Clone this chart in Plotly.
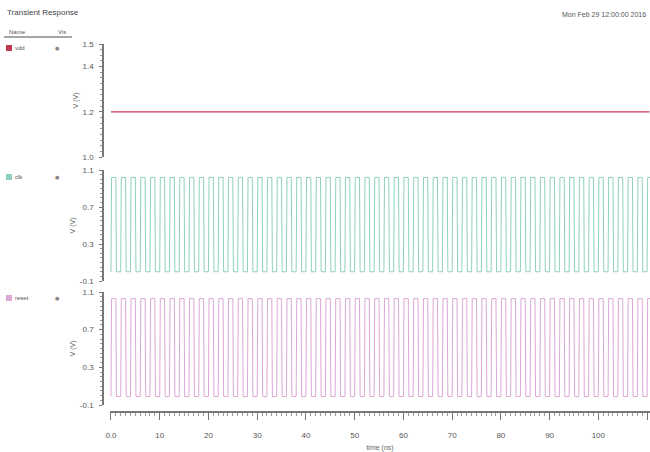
import plotly.graph_objects as go

# ---------------- data ----------------
title_text = "Transient Response"
date_text = "Mon Feb 29 12:00:00 2016"
signal_names = ["vdd", "clk", "reset"]
signal_colors = ["#c23a52", "#8fd1bd", "#dca8d6"]

t_end_ns = 110.5
vdd_level_v = 1.2
clk_period_ns = 2.0
clk_high_v = 1.02
clk_low_v = 0.0
reset_period_ns = 2.0
reset_high_v = 1.03
reset_low_v = -0.01
edge_ns = 0.12

x_tick_vals = [0, 10, 20, 30, 40, 50, 60, 70, 80, 90, 100, 110]
x_tick_text = ["0.0", "10", "20", "30", "40", "50", "60", "70", "80", "90", "100", "110"]
y1_tick_vals = [1.0, 1.2, 1.4, 1.5]
y1_tick_text = ["1.0", "1.2", "1.4", "1.5"]
y23_tick_vals = [-0.1, 0.3, 0.7, 1.1]
y23_tick_text = ["-0.1", "0.3", "0.7", "1.1"]


def square_wave(period, hi, lo, t_end, edge):
    ts, vs = [], []
    t = 0.0
    half = period / 2.0
    while t < t_end:
        ts += [t, t + edge, t + half, t + half + edge]
        vs += [lo, hi, hi, lo]
        t += period
    return ts, vs


clk_t, clk_v = square_wave(clk_period_ns, clk_high_v, clk_low_v, t_end_ns, edge_ns)
rst_t, rst_v = square_wave(reset_period_ns, reset_high_v, reset_low_v, t_end_ns, edge_ns)

W, H = 650, 452
def px(x): return x / W
def py(y): return 1 - y / H

fig = go.Figure()
fig.add_trace(go.Scatter(x=[0, t_end_ns], y=[vdd_level_v, vdd_level_v], mode="lines",
                         line=dict(color=signal_colors[0], width=1.3), xaxis="x", yaxis="y"))
fig.add_trace(go.Scatter(x=clk_t, y=clk_v, mode="lines",
                         line=dict(color=signal_colors[1], width=1), xaxis="x", yaxis="y2"))
fig.add_trace(go.Scatter(x=rst_t, y=rst_v, mode="lines",
                         line=dict(color=signal_colors[2], width=1), xaxis="x", yaxis="y3"))

font = dict(family="Liberation Sans", size=8, color="#555")


def yaxis_cfg(domain, rng, tv, tt, minor_dtick):
    return dict(domain=domain, range=rng, tickvals=tv, ticktext=tt,
                showgrid=False, zeroline=False, showline=True, linecolor="#777", linewidth=1.5,
                ticks="outside", ticklen=3, tickcolor="#777", tickfont=font, ticklabelstandoff=4,
                anchor="free", position=px(103), automargin=False,
                title=dict(text="V (V)", font=dict(family="Liberation Sans", size=7, color="#666"),
                           standoff=2),
                minor=dict(dtick=minor_dtick, ticks="outside", ticklen=2, tickcolor="#999"))


fig.update_layout(
    width=W, height=H, margin=dict(l=0, r=0, t=0, b=0, pad=0), autosize=False,
    paper_bgcolor="white", plot_bgcolor="white", showlegend=False,
    xaxis=dict(domain=[px(110), 1], range=[-0.2, 110.6], showgrid=False, zeroline=False,
               showline=True, linecolor="#777", linewidth=1.5, anchor="free", position=py(412),
               automargin=False,
               tickvals=x_tick_vals, ticktext=x_tick_text, ticks="outside", ticklen=7,
               tickcolor="#777", tickfont=font, ticklabelstandoff=9,
               minor=dict(dtick=1, ticks="outside", ticklen=3, tickcolor="#999"),
               title=dict(text="time (ns)", font=dict(family="Liberation Sans", size=7, color="#666"),
                          standoff=12)),
    yaxis=yaxis_cfg([py(157), py(44)], [1.0, 1.5], y1_tick_vals, y1_tick_text, 0.025),
    yaxis2=yaxis_cfg([py(281), py(170)], [-0.1, 1.1], y23_tick_vals, y23_tick_text, 0.05),
    yaxis3=yaxis_cfg([py(405), py(292)], [-0.1, 1.1], y23_tick_vals, y23_tick_text, 0.05),
)

P = dict(xref="paper", yref="paper", showarrow=False, yanchor="middle")
ann = []
ann.append(dict(x=px(5), y=py(13), text=title_text, xanchor="left",
                font=dict(family="Liberation Sans", size=8, color="#444"), **P))
ann.append(dict(x=px(648), y=py(14), text=date_text, xanchor="right",
                font=dict(family="Liberation Sans", size=7, color="#555"), **P))
ann.append(dict(x=px(7), y=py(32), text="Name", xanchor="left",
                font=dict(family="Liberation Sans", size=6, color="#555"), **P))
ann.append(dict(x=px(56), y=py(32), text="Vis", xanchor="left",
                font=dict(family="Liberation Sans", size=6, color="#555"), **P))
shapes = [dict(type="line", xref="paper", yref="paper", x0=px(4), x1=px(72), y0=py(37), y1=py(37),
               line=dict(color="#888", width=1.5))]
entry_y = [48, 177, 298]
for name, col, yy in zip(signal_names, signal_colors, entry_y):
    shapes.append(dict(type="rect", xref="paper", yref="paper", x0=px(6), x1=px(12),
                       y0=py(yy + 3), y1=py(yy - 3), fillcolor=col, line=dict(width=0)))
    ann.append(dict(x=px(13), y=py(yy), text=name, xanchor="left",
                    font=dict(family="Liberation Sans", size=6, color="#555"), **P))
    ann.append(dict(x=px(58), y=py(yy), text="●", xanchor="center",
                    font=dict(family="DejaVu Sans", size=5, color="#888"), **P))

fig.update_layout(annotations=ann, shapes=shapes)
fig.write_html("out.html", config={"displayModeBar": False},
               post_script="document.body.style.margin='0';document.body.style.overflow='hidden';")
